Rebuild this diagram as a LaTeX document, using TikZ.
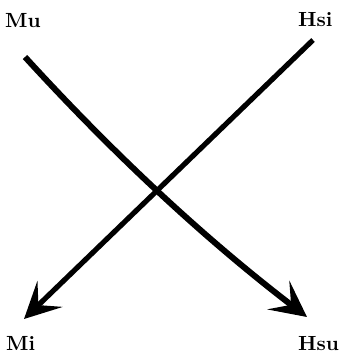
\documentclass[tikz,border=0pt]{standalone}
\usetikzlibrary{arrows.meta}
\begin{document}
\begin{tikzpicture}[x=1pt,y=-1pt,
  lbl/.style={anchor=base west,inner sep=0pt},
  bigarrow/.style={line width=#1,-{Stealth[length=36pt,width=36pt,inset=16pt]}}]
\useasboundingbox (0,0) rectangle (343,353);
\newcommand\lbltext[1]{\scalebox{2.05}{\bfseries #1}}
\node[lbl] (mu) at (5,28) {\lbltext{Mu}};
\node[lbl] (hsi) at (298,27) {\lbltext{Hsi}};
\node[lbl] (mi) at (6,350) {\lbltext{Mi}};
\node[lbl] (hsu) at (298,350) {\lbltext{Hsu}};
\coordinate (muS) at (25,57);
\coordinate (hsuE) at (307,317);
\coordinate (hsiS) at (313,40);
\coordinate (miE) at (24,319);
\draw[bigarrow=6pt] (muS) .. controls (110,150) and (200,235) .. (hsuE);
\draw[bigarrow=5.2pt] (hsiS) -- (miE);
\end{tikzpicture}
\end{document}
